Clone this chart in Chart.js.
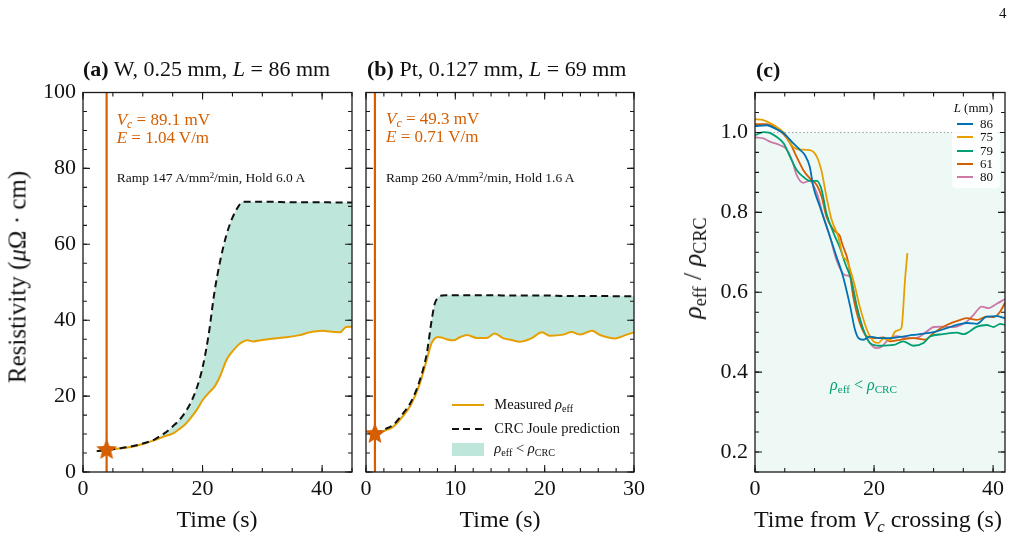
<!DOCTYPE html>
<html>
<head>
<meta charset="utf-8">
<script src="https://cdn.jsdelivr.net/npm/chart.js@4.4.1/dist/chart.umd.min.js"></script>
<style>
body{margin:0;width:1020px;height:540px;position:relative;background:#fff;overflow:hidden;
  font-family:'Liberation Serif','Times New Roman',serif;color:#111}
canvas{position:absolute;left:0;top:0}
.t{position:absolute;white-space:nowrap;line-height:1}
.c{transform:translateX(-50%)}
.r{transform:translate(-50%,-50%) rotate(-90deg)}
sub{font-size:70%;vertical-align:-0.28em;line-height:0}
sup{font-size:65%;vertical-align:0.5em;line-height:0}
.ln{position:absolute;height:2px}
</style>
</head>
<body>
<canvas id="chartA" width="1020" height="540"></canvas>
<canvas id="chartB" width="1020" height="540"></canvas>
<canvas id="chartC" width="1020" height="540"></canvas>

<div class="t" style="left:999px;top:6px;font-size:15px">4</div>

<!-- titles -->
<div class="t" style="left:83px;top:57.5px;font-size:22px"><b>(a)</b> W, 0.25 mm, <i>L</i> = 86 mm</div>
<div class="t" style="left:367px;top:57.5px;font-size:22px"><b>(b)</b> Pt, 0.127 mm, <i>L</i> = 69 mm</div>
<div class="t" style="left:756px;top:58.5px;font-size:22px"><b>(c)</b></div>

<!-- axis titles -->
<div class="t r" style="left:17px;top:277px;font-size:25px">Resistivity (<i>μ</i>Ω · cm)</div>
<div class="t r" style="left:693px;top:268px;font-size:26px"><i>ρ</i><sub>eff</sub> / <i>ρ</i><sub>CRC</sub></div>
<div class="t c" style="left:217px;top:507px;font-size:24px">Time (s)</div>
<div class="t c" style="left:500px;top:507px;font-size:24px">Time (s)</div>
<div class="t c" style="left:878px;top:507px;font-size:24px">Time from <i>V<sub>c</sub></i> crossing (s)</div>

<!-- annotations (a) -->
<div class="t" style="left:116.7px;top:110.7px;font-size:17px;color:#d55e00"><i>V<sub>c</sub></i> = 89.1 mV</div>
<div class="t" style="left:116.7px;top:129px;font-size:17px;color:#d55e00"><i>E</i> = 1.04 V/m</div>
<div class="t" style="left:116.7px;top:171.4px;font-size:13.5px">Ramp 147 A/mm<sup>2</sup>/min, Hold 6.0 A</div>
<!-- annotations (b) -->
<div class="t" style="left:386px;top:109.7px;font-size:17px;color:#d55e00"><i>V<sub>c</sub></i> = 49.3 mV</div>
<div class="t" style="left:386px;top:128px;font-size:17px;color:#d55e00"><i>E</i> = 0.71 V/m</div>
<div class="t" style="left:386px;top:170.7px;font-size:13.5px">Ramp 260 A/mm<sup>2</sup>/min, Hold 1.6 A</div>

<!-- legend (b) -->
<div class="ln" style="left:452px;top:404px;width:32px;background:#e69f00"></div>
<div class="ln" style="left:452px;top:428.3px;width:32px;background:repeating-linear-gradient(90deg,#111 0 7px,transparent 7px 11.5px)"></div>
<div style="position:absolute;left:452px;top:443px;width:32px;height:13px;background:#bfe6da"></div>
<div class="t" style="left:494.3px;top:397.1px;font-size:14.5px">Measured <i>ρ</i><sub>eff</sub></div>
<div class="t" style="left:494.3px;top:421.1px;font-size:14.5px">CRC Joule prediction</div>
<div class="t" style="left:494.3px;top:441.1px;font-size:14.5px"><i>ρ</i><sub>eff</sub> &lt; <i>ρ</i><sub>CRC</sub></div>

<!-- legend (c) -->
<div style="position:absolute;left:951.7px;top:100px;width:48.3px;height:88px;background:rgba(255,255,255,0.85);border-radius:4px"></div>
<div class="t" style="right:27px;top:100.8px;font-size:13px"><i>L</i> (mm)</div>
<div id="legendC"></div>

<div class="t" style="left:830px;top:376.6px;font-size:16px;color:#009e73"><i>ρ</i><sub>eff</sub> &lt; <i>ρ</i><sub>CRC</sub></div>

<script>
// ---- panel (a): W wire ----
const timeA = [2.3, 4, 6, 8, 10, 12, 13, 14, 15, 16, 17, 18, 19, 20, 21, 22, 23, 24, 25, 26, 26.7, 27.5, 28.5, 30, 32, 34, 36, 38, 40, 42, 43, 44, 45]
const measuredA = [5.5, 5.8, 6.2, 6.6, 7.4, 8.4, 9.0, 9.6, 10.1, 11.2, 12.4, 14.2, 16.3, 18.9, 20.8, 22.5, 25.5, 29.5, 31.8, 33.5, 34.3, 34.7, 34.4, 34.8, 35.2, 35.5, 36.0, 36.8, 37.2, 36.9, 36.8, 38.2, 38.3]
const crcA = [5.5, 5.8, 6.2, 6.7, 7.5, 8.6, 9.6, 10.6, 12.0, 13.5, 15.5, 18.2, 22.0, 27.5, 36.0, 47.5, 56.0, 62.5, 67.0, 70.0, 71.2, 71.2, 71.2, 71.2, 71.2, 71.1, 71.1, 71.1, 71.1, 71.0, 71.0, 71.0, 71.0]
const vcA = [3.95]
const vcRhoA = [5.8]

// ---- panel (b): Pt wire ----
const timeB = [1, 2, 3, 4, 5, 6, 6.8, 7.35, 7.7, 8.1, 8.5, 9.0, 9.8, 10.5, 11.3, 12.4, 13.5, 14.4, 15.4, 16.3, 17.2, 18.5, 19.7, 20.6, 22.1, 23.0, 24.0, 25.3, 26.2, 27.9, 29.2, 30]
const measuredB = [10, 10.8, 11.8, 14.3, 17.6, 23.1, 29.5, 34.0, 35.2, 35.6, 35.4, 35.0, 34.7, 35.5, 36.1, 35.3, 35.3, 36.5, 35.2, 34.8, 34.3, 35.2, 36.8, 35.9, 36.2, 36.9, 36.2, 37.2, 36.1, 35.2, 36.2, 36.8]
const crcB = [10, 11.2, 12.3, 15.0, 18.3, 24.0, 31.2, 40.0, 44.4, 46.0, 46.5, 46.6, 46.6, 46.6, 46.6, 46.6, 46.6, 46.6, 46.5, 46.5, 46.5, 46.5, 46.5, 46.5, 46.4, 46.4, 46.4, 46.4, 46.4, 46.3, 46.3, 46.3]
const vcB = [1.0]
const vcRhoB = [10.0]

// ---- panel (c): rho_eff / rho_CRC vs time from Vc ----
const lengthsC = ['86', '75', '79', '61', '80']
const colorsC = ['#0072b2', '#e69f00', '#009e73', '#d55e00', '#cc79a7']
const t86 = [0, 2.0, 3.6, 4.8, 6.4, 7.6, 8.4, 9.2, 9.8, 10.9, 12.3, 13.7, 14.8, 16.0, 16.8, 17.4, 18.2, 19.3, 20.9, 22.1, 24.3, 26.6, 27.7, 30.0, 32.2, 33.9, 35.6, 37.3, 38.9, 40.6, 42]
const r86 = [1.016, 1.018, 1.008, 0.998, 0.973, 0.956, 0.943, 0.914, 0.864, 0.814, 0.752, 0.689, 0.639, 0.564, 0.506, 0.485, 0.481, 0.489, 0.485, 0.485, 0.488, 0.493, 0.495, 0.500, 0.510, 0.518, 0.523, 0.521, 0.539, 0.540, 0.535]
const t75 = [0, 1.4, 3.6, 4.8, 6.4, 7.6, 9.2, 10.4, 11.2, 12.0, 12.9, 14.0, 14.8, 15.4, 16.5, 17.6, 18.8, 19.9, 20.7, 21.6, 22.7, 23.5, 24.4, 24.65, 25.2, 25.6]
const r75 = [1.033, 1.031, 1.014, 1.0, 0.964, 0.957, 0.956, 0.939, 0.902, 0.839, 0.78, 0.739, 0.689, 0.68, 0.631, 0.564, 0.506, 0.477, 0.473, 0.484, 0.48, 0.501, 0.507, 0.514, 0.63, 0.698]
const t79 = [0, 1.4, 2.5, 3.6, 4.8, 5.9, 7.0, 8.1, 9.2, 10.4, 11.2, 12.0, 13.2, 14.3, 15.2, 16.0, 17.1, 18.2, 19.3, 21.0, 23.3, 24.9, 26.6, 28.3, 29.4, 31.6, 33.9, 35.0, 37.3, 38.9, 40.1, 41.2, 42]
const r79 = [0.993, 1.001, 0.999, 0.989, 0.973, 0.939, 0.906, 0.889, 0.879, 0.879, 0.856, 0.798, 0.748, 0.71, 0.67, 0.639, 0.564, 0.506, 0.473, 0.466, 0.468, 0.477, 0.466, 0.473, 0.489, 0.495, 0.499, 0.495, 0.514, 0.518, 0.513, 0.521, 0.518]
const t61 = [0, 2.0, 3.6, 4.8, 5.9, 7.0, 8.1, 9.2, 10.4, 11.2, 12.0, 13.2, 14.3, 14.6, 15.7, 16.5, 17.6, 18.8, 19.9, 21.6, 22.7, 24.4, 26.6, 28.6, 30.0, 32.2, 34.5, 35.6, 37.3, 38.9, 40.1, 41.2, 42]
const r61 = [1.021, 1.021, 1.01, 0.996, 0.973, 0.939, 0.906, 0.885, 0.868, 0.839, 0.789, 0.756, 0.739, 0.723, 0.673, 0.589, 0.523, 0.489, 0.485, 0.487, 0.477, 0.481, 0.485, 0.481, 0.498, 0.518, 0.531, 0.535, 0.531, 0.539, 0.538, 0.552, 0.574]
const t80 = [0, 1.4, 2.5, 4.2, 5.3, 6.2, 7.0, 8.1, 9.2, 10.4, 11.5, 12.6, 13.7, 15.1, 16.0, 17.1, 18.2, 19.3, 20.4, 21.2, 22.4, 23.8, 25.5, 26.9, 28.9, 30.0, 31.6, 33.3, 35.6, 36.7, 38.1, 39.2, 40.6, 42]
const r80 = [0.988, 0.985, 0.977, 0.968, 0.958, 0.931, 0.893, 0.874, 0.879, 0.848, 0.789, 0.739, 0.68, 0.643, 0.639, 0.564, 0.506, 0.473, 0.46, 0.463, 0.481, 0.49, 0.485, 0.485, 0.502, 0.513, 0.514, 0.513, 0.527, 0.543, 0.564, 0.56, 0.571, 0.583]
const timesC = [t86, t75, t79, t61, t80]
const ratiosC = [r86, r75, r79, r61, r80]
const unityC = [1.0]

Chart.defaults.font.family = "'Liberation Serif', 'Times New Roman', serif"
Chart.defaults.color = '#111'
Chart.defaults.animation = false

const vermillion = '#d55e00'
const amber = '#e69f00'
const teal = '#bfe6da'

function pts(xs, ys) {
    return xs.map((x, i) => ({x: x, y: ys[i]}))
}

function starImage(r, color) {
    var c = document.createElement('canvas')
    c.width = c.height = 2 * r + 2
    var g = c.getContext('2d')
    g.fillStyle = color
    g.beginPath()
    for (var i = 0; i < 10; i++) {
        var rr = i % 2 ? r * 0.45 : r
        var a = -Math.PI / 2 + i * Math.PI / 5
        g.lineTo(r + 1 + rr * Math.cos(a), r + 1 + rr * Math.sin(a))
    }
    g.closePath()
    g.fill()
    return c
}

// box frame + inward ticks on all four sides
const frameTicks = {
    id: 'frameTicks',
    afterDraw(chart, args, o) {
        const ctx = chart.ctx, a = chart.chartArea
        ctx.save()
        ctx.strokeStyle = '#1a1a1a'
        ctx.lineWidth = 1.3
        ctx.strokeRect(a.left, a.top, a.right - a.left, a.bottom - a.top)
        ctx.lineWidth = 1.1
        const mark = (scale, step, len) => {
            const k0 = Math.ceil(scale.min / step - 1e-6), k1 = Math.floor(scale.max / step + 1e-6)
            ctx.beginPath()
            for (let k = k0; k <= k1; k++) {
                const p = scale.getPixelForValue(k * step)
                if (scale.axis === 'x') {
                    ctx.moveTo(p, a.bottom); ctx.lineTo(p, a.bottom - len)
                    ctx.moveTo(p, a.top); ctx.lineTo(p, a.top + len)
                } else {
                    ctx.moveTo(a.left, p); ctx.lineTo(a.left + len, p)
                    ctx.moveTo(a.right, p); ctx.lineTo(a.right - len, p)
                }
            }
            ctx.stroke()
        }
        mark(chart.scales.x, o.xMinor, 4)
        mark(chart.scales.x, o.xMajor, 7)
        mark(chart.scales.y, o.yMinor, 4)
        mark(chart.scales.y, o.yMajor, 7)
        ctx.restore()
    }
}

function axes(xMax, xStep, yMin, yMax, yStep, showY, fmt) {
    return {
        x: {
            type: 'linear', min: 0, max: xMax,
            afterFit: s => { s.height = 30 },
            grid: {display: false, drawTicks: false}, border: {display: false},
            ticks: {stepSize: xStep, includeBounds: false, padding: 4, maxRotation: 0, font: {size: 22}}
        },
        y: {
            type: 'linear', min: yMin, max: yMax,
            afterFit: s => { s.width = showY ? 50 : 10 },
            grid: {display: false, drawTicks: false}, border: {display: false},
            ticks: {display: showY, stepSize: yStep, includeBounds: false, padding: showY ? 7 : 0, font: {size: 22}, callback: fmt}
        }
    }
}

function resistivityChart(id, pad, t, meas, crc, vc, vcRho, xMax, xStep, showY, tk) {
    const star = starImage(11, vermillion)
    return new Chart(document.getElementById(id), {
        type: 'line',
        data: {
            datasets: [
                {data: pts(vc, vcRho), showLine: false, pointStyle: star, pointRadius: 11, borderColor: vermillion, backgroundColor: vermillion},
                {data: [{x: vc[0], y: 0}, {x: vc[0], y: 100}], borderColor: vermillion, borderWidth: 2.2, pointRadius: 0},
                {data: pts(t, crc), borderColor: '#111', borderWidth: 2, borderDash: [7, 4.5], pointRadius: 0,
                    cubicInterpolationMode: 'monotone', backgroundColor: teal,
                    fill: {target: 3, above: teal, below: 'rgba(0,0,0,0)'}},
                {data: pts(t, meas), borderColor: amber, borderWidth: 2, pointRadius: 0, cubicInterpolationMode: 'monotone'}
            ]
        },
        options: {
            responsive: false,
            layout: {padding: pad},
            plugins: {legend: {display: false}, tooltip: {enabled: false}, filler: {drawTime: 'beforeDatasetsDraw'}, frameTicks: tk},
            scales: axes(xMax, xStep, 0, 100, 20, showY)
        },
        plugins: [frameTicks]
    })
}

resistivityChart('chartA', {left: 33, right: 668, top: 92.5, bottom: 38}, timeA, measuredA, crcA, vcA, vcRhoA, 45, 20, true,
    {xMajor: 20, xMinor: 5, yMajor: 20, yMinor: 5})
resistivityChart('chartB', {left: 356, right: 386, top: 92.5, bottom: 38}, timeB, measuredB, crcB, vcB, vcRhoB, 30, 10, false,
    {xMajor: 10, xMinor: 2, yMajor: 20, yMinor: 5})

// panel (c)
var dsC = lengthsC.map((L, i) => ({
    label: L, data: pts(timesC[i], ratiosC[i]), borderColor: colorsC[i], borderWidth: 1.8,
    pointRadius: 0, cubicInterpolationMode: 'monotone'
}))
dsC.push({
    label: 'unity', data: [{x: 0, y: unityC[0]}, {x: 42, y: unityC[0]}], borderColor: '#9a9a9a', borderWidth: 1,
    borderDash: [1.5, 2.2], pointRadius: 0, fill: 'start', backgroundColor: 'rgba(0,158,115,0.065)'
})
new Chart(document.getElementById('chartC'), {
    type: 'line',
    data: {datasets: dsC},
    options: {
        responsive: false,
        layout: {padding: {left: 705, right: 15, top: 92.5, bottom: 38}},
        plugins: {legend: {display: false}, tooltip: {enabled: false}, filler: {drawTime: 'beforeDatasetsDraw'},
            frameTicks: {xMajor: 20, xMinor: 5, yMajor: 0.2, yMinor: 0.05}},
        scales: axes(42, 20, 0.15, 1.1, 0.2, true, v => v.toFixed(1))
    },
    plugins: [frameTicks]
})

// legend (c) rows
var rowsY = [124, 137.3, 150.7, 164, 177.3]
var html = ''
lengthsC.forEach((L, i) => {
    html += '<div class="ln" style="left:957px;top:' + (rowsY[i] - 1) + 'px;width:16px;background:' + colorsC[i] + '"></div>'
    html += '<div class="t" style="right:27px;top:' + (rowsY[i] - 6.9) + 'px;font-size:13px">' + L + '</div>'
})
document.getElementById('legendC').innerHTML = html
</script>
</body>
</html>
